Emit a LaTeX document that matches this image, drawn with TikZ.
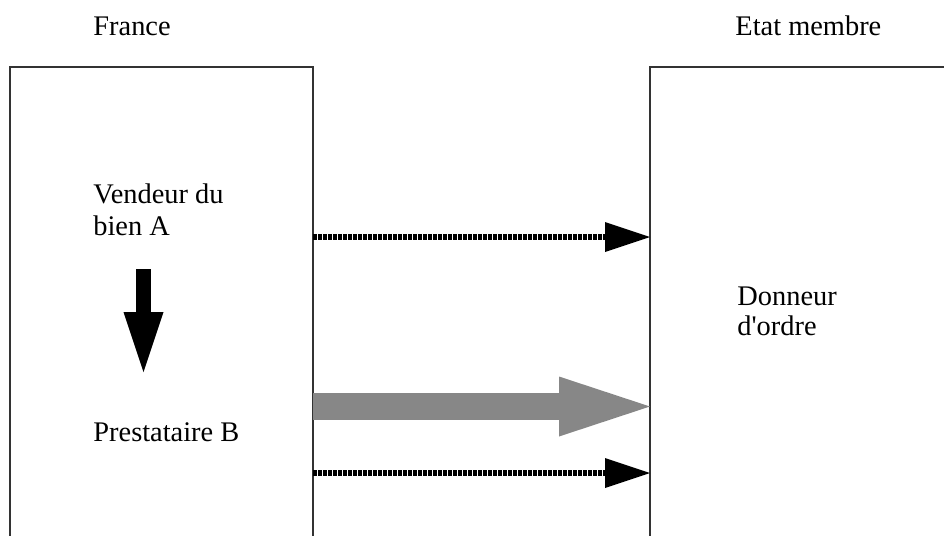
\documentclass[tikz,border=0pt]{standalone}
\usepackage{fontspec}
\setmainfont{Liberation Serif}[Ligatures=TeXOff]
\usepackage{tikz}
\usetikzlibrary{arrows.meta}
\definecolor{flowgray}{HTML}{878787}
\tikzstyle{dotarrow} = [line width=3.3pt, dash pattern=on 1.8pt off 0.7pt, -{Triangle[length=22.5pt,width=15pt,line width=0pt]}]

\begin{document}
\begin{tikzpicture}[x=0.5pt,y=-0.5pt]
                    \tikzstyle{every node}=[font=\fontsize{14.2pt}{16pt}\selectfont, inner sep=0pt]
                    \tikzstyle{panel} = [line width=0.6pt, draw=black!80]
                    \tikzstyle{txt} = [anchor=base west, align=left]
                    \tikzstyle{bigarrow} = [line width=13.5pt, flowgray, -{Triangle[length=45.5pt,width=30pt,line width=0pt]}]
                    \tikzstyle{downarrow} = [line width=7.5pt, -{Triangle[length=30pt,width=20pt,line width=0pt]}]

                    \useasboundingbox (0,0) rectangle (944,536);
                    \draw[panel] (10,536) |- (313,67) -- (313,536);
                    \draw[panel] (650,536) |- (944,67);

                    \node[txt](france) at (93,35) {France};
                    \node[txt](etat) at (735,35) {Etat membre};
                    \node[txt](vendeur) at (93,235) {Vendeur du\\bien A};
                    \node[txt](presta) at (93,441) {Prestataire B};
                    \node[txt, font=\fontsize{14.2pt}{15pt}\selectfont](donneur) at (737,335) {Donneur\\d'ordre};

                    \coordinate (fr1) at (313,237);
                    \coordinate (em1) at (650,237);
                    \coordinate (fr2) at (313,406.5);
                    \coordinate (em2) at (650,406.5);
                    \coordinate (fr3) at (313,473);
                    \coordinate (em3) at (650,473);
                    \coordinate (va) at (143.5,269);
                    \coordinate (pb) at (143.5,372);

                    \draw[dotarrow] (fr1) -- (em1);
                    \draw[bigarrow] (fr2) -- (em2);
                    \draw[dotarrow] (fr3) -- (em3);
                    \draw[downarrow] (va) -- (pb);
\end{tikzpicture}
\end{document}
